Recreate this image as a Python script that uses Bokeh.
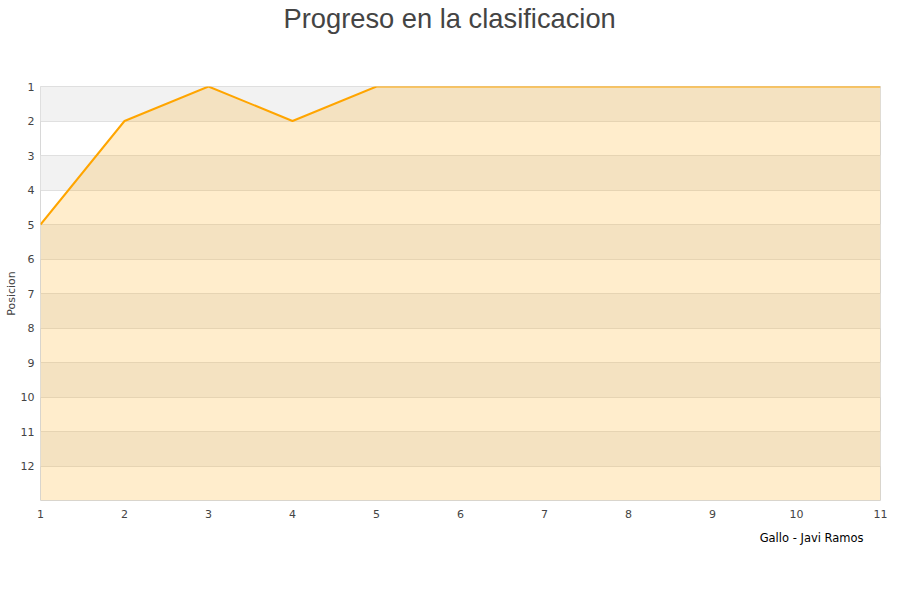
from bokeh.plotting import figure
from bokeh.models import (FixedTicker, LinearAxis, Range1d, ColumnDataSource, Title,
                          CustomJSTickFormatter)
from bokeh.embed import file_html
from bokeh.resources import INLINE

# Data
jornadas = [1, 2, 3, 4, 5, 6, 7, 8, 9, 10, 11]
posiciones = [5, 2, 1, 2, 1, 1, 1, 1, 1, 1, 1]
serie = "Gallo - Javi Ramos"
titulo = "Progreso en la clasificacion"
y_label = "Posicion"
y_ticks = [1, 2, 3, 4, 5, 6, 7, 8, 9, 10, 11, 12]
x_ticks = [1, 2, 3, 4, 5, 6, 7, 8, 9, 10, 11]
band_bottoms = [1, 3, 5, 7, 9, 11]

p = figure(output_backend="svg", toolbar_location=None,
           frame_width=840, frame_height=414,
           min_border_left=40, min_border_right=20,
           min_border_top=86, min_border_bottom=0,
           x_range=Range1d(1, 11), y_range=Range1d(13, 1),
           background_fill_color="white", border_fill_color="white")

p.title = Title(text=titulo, align="left", offset=243, text_font="Liberation Sans",
                text_font_size="27.3px", text_color="#444444",
                text_font_style="normal", standoff=0)
spacer = Title(text=" ", text_font_size="10px", standoff=40)
p.add_layout(spacer, "above")

# alternating background bands
p.quad(left=1, right=11, bottom=band_bottoms, top=[b + 1 for b in band_bottoms],
       fill_color="#f2f2f2", line_color=None, level="underlay")

src = ColumnDataSource(dict(x=jornadas, y=posiciones, base=[13] * len(jornadas)))
area = p.varea(x="x", y1="y", y2="base", source=src, fill_color="#FFA500", fill_alpha=0.2)
line = p.line(x="x", y="y", source=src, line_color="#FFA500", line_width=2)

p.outline_line_color = "#d8d8d8"
p.outline_line_width = 1

p.xgrid.grid_line_color = None
p.ygrid.grid_line_color = "#e0e0e0"
p.ygrid.ticker = FixedTicker(ticks=list(range(1, 13)))

def style_axis(ax):
    ax.axis_line_color = None
    ax.major_tick_line_color = None
    ax.minor_tick_line_color = None
    ax.major_tick_out = 0
    ax.major_tick_in = 0
    ax.minor_tick_out = 0
    ax.minor_tick_in = 0
    ax.major_label_text_font = "DejaVu Sans"
    ax.major_label_text_font_size = "11px"
    ax.major_label_text_color = "#444444"

for ax in (p.xaxis[0], p.yaxis[0]):
    style_axis(ax)

p.xaxis.major_label_standoff = 9
p.yaxis.major_label_standoff = 6
p.xaxis.ticker = FixedTicker(ticks=x_ticks)
p.yaxis.ticker = FixedTicker(ticks=y_ticks)
p.yaxis.axis_label = y_label
p.yaxis.axis_label_text_font = "DejaVu Sans"
p.yaxis.axis_label_text_font_size = "11px"
p.yaxis.axis_label_text_font_style = "normal"
p.yaxis.axis_label_text_color = "#444444"
p.yaxis.axis_label_standoff = 0

# legend entry (series name) placed below the x axis, at the bottom right
legend_axis = LinearAxis(ticker=FixedTicker(ticks=[10.18]),
                         formatter=CustomJSTickFormatter(args=dict(s=serie), code="return s;"))
style_axis(legend_axis)
legend_axis.major_label_text_font_size = "11.5px"
legend_axis.major_label_text_color = "#000000"
legend_axis.major_label_standoff = 10
p.add_layout(legend_axis, "below")

open("out.html", "w").write(file_html(p, INLINE))
